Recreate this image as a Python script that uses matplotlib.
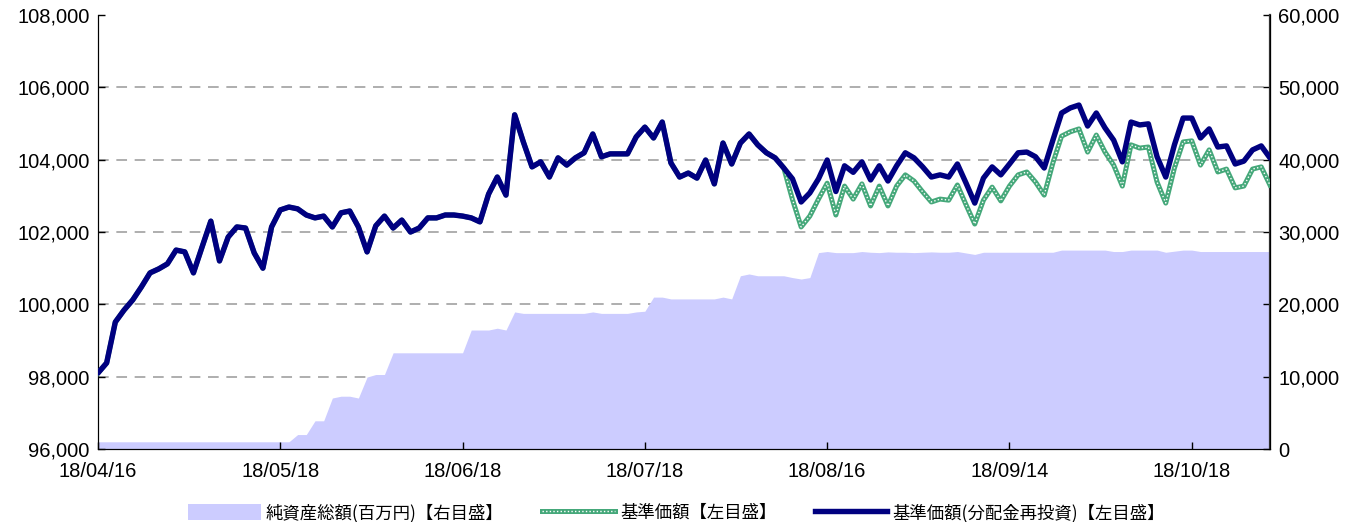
import matplotlib
matplotlib.use('Agg')
import matplotlib.pyplot as plt
from matplotlib.lines import Line2D
from matplotlib.patches import Patch
from matplotlib.legend_handler import HandlerTuple
from matplotlib.ticker import FuncFormatter

# ── Data (one point per trading day, 18/04/16 .. 18/10/31) ──────────
tick_labels = ['18/04/16', '18/05/18', '18/06/18', '18/07/18',
               '18/08/16', '18/09/14', '18/10/18']

# 基準価額(分配金再投資)
nav_reinvest = [
    98100, 98380, 99510, 99840, 100120, 100480, 100870, 100980, 101120, 101500,
    101450, 100870, 101590, 102300, 101200, 101860, 102140, 102110, 101420, 101000,
    102140, 102610, 102690, 102640, 102470, 102390, 102440, 102140, 102530, 102580,
    102140, 101450, 102170, 102440, 102110, 102330, 102000, 102110, 102390, 102390,
    102470, 102470, 102440, 102390, 102280, 103050, 103520, 103020, 105240, 104490,
    103800, 103940, 103520, 104050, 103850, 104050, 104190, 104710, 104080, 104160,
    104160, 104160, 104630, 104900, 104600, 105040, 103910, 103520, 103630, 103490,
    103990, 103330, 104460, 103880, 104460, 104710, 104410, 104190, 104050, 103770,
    103470, 102830, 103080, 103470, 103990, 103120, 103830, 103650, 103940, 103440,
    103830, 103410, 103830, 104190, 104050, 103800, 103520, 103580, 103520, 103880,
    103350, 102800, 103490, 103800, 103580, 103880, 104190, 104210, 104080, 103770,
    104540, 105290, 105430, 105510, 104930, 105290, 104880, 104540, 103940, 105040,
    104960, 104990, 104080, 103520, 104410, 105150, 105150, 104600, 104850, 104350,
    104380, 103880, 103960, 104270, 104380, 104050,
]

# 基準価額 (same as reinvested until the distribution)
nav_tail = [
    102900, 102140, 102440, 102910, 103350, 102470, 103270, 102910, 103330, 102720,
    103270, 102720, 103270, 103580, 103410, 103110, 102830, 102910, 102880, 103300,
    102750, 102220, 102880, 103240, 102860, 103270, 103580, 103660, 103380, 103020,
    103910, 104650, 104770, 104850, 104210, 104680, 104210, 103850, 103270, 104410,
    104320, 104350, 103380, 102800, 103770, 104490, 104520, 103850, 104270, 103660,
    103740, 103220, 103270, 103740, 103800, 103300,
]
nav = nav_reinvest[:80] + nav_tail

# 純資産総額(百万円)
net_assets = (
    [1000] * 23 + [2000, 2000, 3900, 3900, 7050, 7300, 7300, 7050,
                   9950, 10300, 10300] + [13300] * 9
    + [16450, 16450, 16450, 16700, 16450, 18950] + [18750] * 8
    + [18950, 18750, 18750, 18750, 18750, 18950, 19050, 21000, 21000]
    + [20750] * 6
    + [21000, 20750, 23950, 24200, 23950, 23950, 23950, 23950,
       23700, 23500, 23700, 27150, 27300, 27150, 27150, 27150, 27300]
    + [27200, 27150, 27250, 27200, 27200, 27150, 27200, 27250, 27200, 27200]
    + [27300, 27100, 26900] + [27200] * 9 + [27500] * 6 + [27300, 27300]
    + [27500] * 4 + [27200, 27350, 27500, 27500] + [27300] * 9
)

x = list(range(len(nav_reinvest)))
tick_pos = [i * 21 for i in range(len(tick_labels))]

# ── Colors ──────────────────────────────────────────────
COLOR_AREA  = '#ccccff'
COLOR_GREEN = '#45a87a'
COLOR_NAVY  = '#000080'
COLOR_GRID  = '#999999'

TICK_FONT = 'Liberation Sans'
JP_FONT   = ['Noto Sans CJK JP', 'DejaVu Sans']

fig = plt.figure(figsize=(13.53, 5.22), dpi=100)
ax = fig.add_axes([0.0724, 0.1398, 0.8662, 0.8315])
ax2 = ax.twinx()

# area on the right axis, lines on the left axis drawn above it
ax.set_zorder(ax2.get_zorder() + 1)
ax.patch.set_visible(False)

ax2.fill_between(x, net_assets, 0, color=COLOR_AREA, lw=0, zorder=1)
for v in [10000, 20000, 30000, 40000, 50000]:
    ax2.axhline(v, color=COLOR_GRID, lw=1.1, dashes=(7, 5), zorder=0.5)

ax.plot(x, nav, color=COLOR_GREEN, lw=3.6, solid_joinstyle='round', zorder=3)
ax.plot(x, nav, color='white', lw=1.0, dashes=(1, 1.6), zorder=3.1)
ax.plot(x, nav_reinvest, color=COLOR_NAVY, lw=3.9, solid_joinstyle='round',
        solid_capstyle='round', zorder=4)

ax.set_xlim(0, len(x) - 1)
ax.set_ylim(96000, 108000)
ax2.set_ylim(0, 60000)
ax.set_yticks(range(96000, 108001, 2000))
ax2.set_yticks(range(0, 60001, 10000))
ax.set_xticks(tick_pos)
ax.set_xticklabels(tick_labels)

fmt = FuncFormatter(lambda v, p: f'{int(v):,}')
ax.yaxis.set_major_formatter(fmt)
ax2.yaxis.set_major_formatter(fmt)

for a in (ax, ax2):
    a.spines['top'].set_visible(False)
    a.tick_params(direction='in', length=5, width=1, labelsize=14.5, pad=6)
    for lbl in a.get_xticklabels() + a.get_yticklabels():
        lbl.set_fontfamily(TICK_FONT)
ax.tick_params(axis='x', pad=9)
ax2.spines['right'].set_linewidth(1.6)
ax2.spines['right'].set_color('#333333')

# ── Legend ──────────────────────────────────────────────
h_area = Patch(facecolor=COLOR_AREA, edgecolor='none')
h_green = (Line2D([], [], color=COLOR_GREEN, lw=3.6),
           Line2D([], [], color='white', lw=1.0, dashes=(1, 1.6)))
h_navy = Line2D([], [], color=COLOR_NAVY, lw=3.9)
fig.legend([h_area, h_green, h_navy],
           ['純資産総額(百万円)【右目盛】', '基準価額【左目盛】',
            '基準価額(分配金再投資)【左目盛】'],
           handler_map={tuple: HandlerTuple(ndivide=1, pad=0)},
           loc='lower center', bbox_to_anchor=(0.5, -0.03), ncol=3,
           frameon=False, prop={'family': JP_FONT, 'size': 12.5},
           handlelength=4.2, handleheight=1.0, columnspacing=2.2,
           handletextpad=0.3)

fig.savefig('out.png', dpi=100)
